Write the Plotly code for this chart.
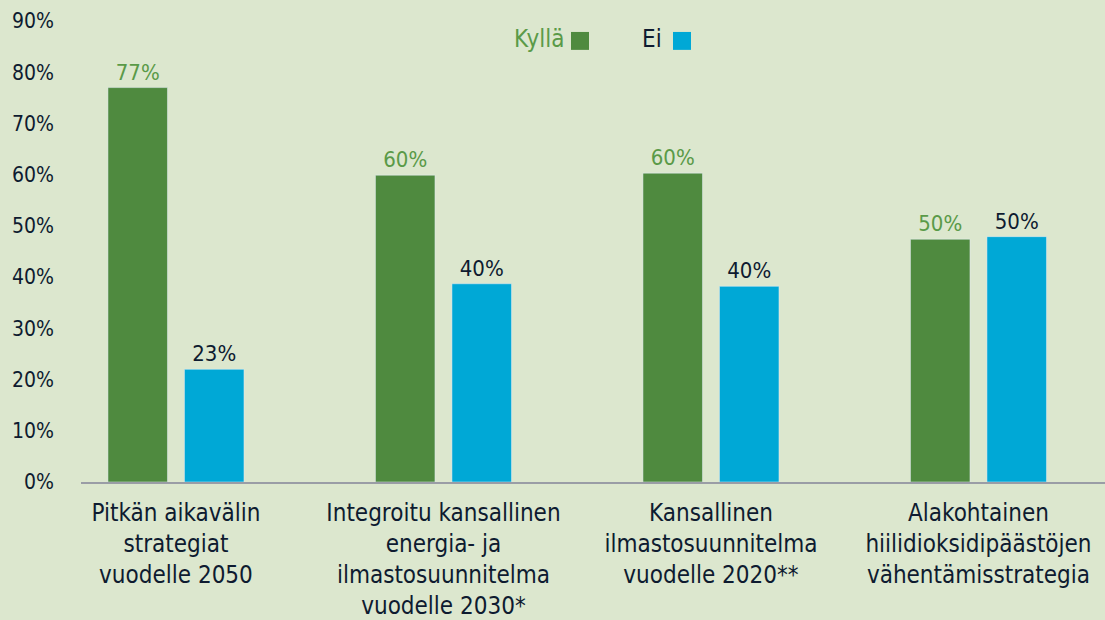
import plotly.graph_objects as go

categories = [
    "Pitkän aikavälin<br>strategiat<br>vuodelle 2050",
    "Integroitu kansallinen<br>energia- ja<br>ilmastosuunnitelma<br>vuodelle 2030*",
    "Kansallinen<br>ilmastosuunnitelma<br>vuodelle 2020**",
    "Alakohtainen<br>hiilidioksidipäästöjen<br>vähentämisstrategia",
]
kylla_values = [77.0, 59.9, 60.3, 47.4]
ei_values = [22.0, 38.7, 38.2, 47.9]
kylla_labels = ["77%", "60%", "60%", "50%"]
ei_labels = ["23%", "40%", "40%", "50%"]
y_ticks = [0, 10, 20, 30, 40, 50, 60, 70, 80, 90]
y_tick_labels = ["0%", "10%", "20%", "30%", "40%", "50%", "60%", "70%", "80%", "90%"]

FONT = "DejaVu Sans Condensed, DejaVu Sans, sans-serif"
BG = "#DCE7CE"
GREEN = "#4F8A3F"
GREEN_TXT = "#5A9A48"
BLUE = "#00A8D6"
DARK = "#0E1B30"

fig = go.Figure()
fig.add_trace(go.Bar(
    name="Kyllä", x=categories, y=kylla_values, marker_color=GREEN,
    text=kylla_labels, textposition="outside", cliponaxis=False,
    outsidetextfont=dict(family=FONT, size=22, color=GREEN_TXT),
))
fig.add_trace(go.Bar(
    name="Ei", x=categories, y=ei_values, marker_color=BLUE,
    text=ei_labels, textposition="outside", cliponaxis=False,
    outsidetextfont=dict(family=FONT, size=22, color=DARK),
))

L, R, T, B = 81, 0, 21, 136
W, H = 1105, 620
pw = W - L - R
ph = H - T - B

def px(x):
    return (x - L) / pw

def py(y):
    return (H - B - y) / ph

fig.update_layout(
    width=W, height=H,
    margin=dict(l=L, r=R, t=T, b=B, pad=0),
    paper_bgcolor=BG, plot_bgcolor=BG,
    barmode="group", bargap=0.428, bargroupgap=0.222,
    showlegend=False,
    font=dict(family=FONT, color=DARK, size=22),
    xaxis=dict(
        range=[-0.355, 3.473], showline=True, linecolor="#9A9DA6", linewidth=2,
        ticks="", showgrid=False, zeroline=False,
        tickfont=dict(family=FONT, size=24, color=DARK),
        ticklabelstandoff=8,
    ),
    yaxis=dict(
        range=[0, 90], tickvals=y_ticks, ticktext=y_tick_labels, showgrid=False,
        zeroline=False, showline=False, ticks="",
        tickfont=dict(family=FONT, size=21, color=DARK),
        ticklabelstandoff=26,
    ),
    shapes=[
        dict(type="rect", xref="paper", yref="paper", x0=px(571), x1=px(589), y0=py(50), y1=py(32),
             fillcolor=GREEN, line_width=0),
        dict(type="rect", xref="paper", yref="paper", x0=px(673), x1=px(691), y0=py(50), y1=py(32),
             fillcolor=BLUE, line_width=0),
    ],
    annotations=[
        dict(text="Kyllä", xref="paper", yref="paper", x=px(566), y=py(39), xanchor="right",
             yanchor="middle", showarrow=False, font=dict(family=FONT, size=24, color=GREEN_TXT)),
        dict(text="Ei", xref="paper", yref="paper", x=px(664), y=py(39), xanchor="right",
             yanchor="middle", showarrow=False, font=dict(family=FONT, size=24, color=DARK)),
    ],
)

fig.write_html(
    "out.html",
    config={"displayModeBar": False},
    post_script="document.body.style.margin='0';document.body.style.padding='0';document.documentElement.style.overflow='hidden';",
)
